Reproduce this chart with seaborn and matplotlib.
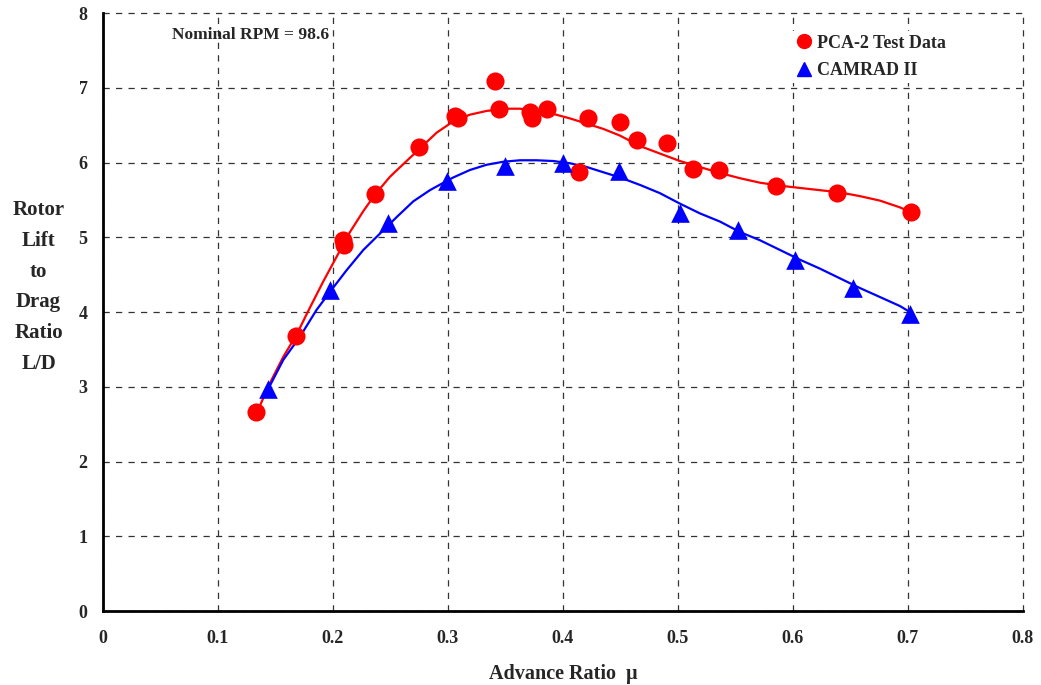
import matplotlib
matplotlib.use("Agg")
import matplotlib.pyplot as plt
import seaborn as sns
from matplotlib.lines import Line2D

# ---- data ----
pca_mu = [0.133, 0.168, 0.209, 0.210, 0.2365, 0.275, 0.306, 0.309, 0.341, 0.344,
          0.371, 0.373, 0.386, 0.414, 0.4215, 0.4496, 0.4646, 0.4907, 0.5128,
          0.536, 0.585, 0.6385, 0.7023]
pca_ld = [2.66, 3.68, 4.97, 4.90, 5.58, 6.21, 6.62, 6.60, 7.09, 6.72,
          6.68, 6.59, 6.72, 5.87, 6.59, 6.54, 6.30, 6.26, 5.91,
          5.90, 5.68, 5.59, 5.34]

cam_mu = [0.1437, 0.197, 0.248, 0.2994, 0.3496, 0.3997, 0.449, 0.5017, 0.5519,
          0.602, 0.652, 0.702]
cam_ld = [2.97, 4.29, 5.19, 5.75, 5.96, 6.00, 5.89, 5.33, 5.10,
          4.69, 4.32, 3.98]

# trend curves
pca_fit_mu = [0.134, 0.1452, 0.1568, 0.1684, 0.180, 0.1916, 0.2032, 0.2148, 0.2264,
              0.2365, 0.2496, 0.264, 0.2757, 0.2902, 0.3046, 0.3191, 0.3336, 0.348,
              0.3626, 0.3771, 0.3916, 0.4061, 0.4206, 0.435, 0.4496, 0.467, 0.4843,
              0.5017, 0.519, 0.5365, 0.5539, 0.5713, 0.5887, 0.606, 0.6235, 0.6409,
              0.6583, 0.6757, 0.693, 0.7017]
pca_fit_ld = [2.66, 3.05, 3.40, 3.70, 4.06, 4.41, 4.74, 5.07, 5.35,
              5.57, 5.81, 6.02, 6.19, 6.40, 6.55, 6.64, 6.69, 6.72,
              6.72, 6.69, 6.65, 6.59, 6.52, 6.45, 6.36, 6.22, 6.12,
              6.02, 5.94, 5.86, 5.79, 5.73, 5.69, 5.66, 5.63, 5.60,
              5.55, 5.49, 5.40, 5.34]

cam_fit_mu = [0.1437, 0.1568, 0.1713, 0.1858, 0.1974, 0.2119, 0.2264, 0.2409, 0.2554,
              0.2698, 0.2843, 0.2902, 0.3046, 0.3191, 0.3336, 0.348, 0.3626, 0.3771,
              0.3916, 0.4061, 0.4206, 0.435, 0.4496, 0.467, 0.4843, 0.5017, 0.519,
              0.5365, 0.5539, 0.5713, 0.5887, 0.606, 0.6235, 0.6409, 0.6583, 0.6757,
              0.693, 0.7017]
cam_fit_ld = [2.97, 3.36, 3.67, 4.03, 4.27, 4.56, 4.83, 5.05, 5.27,
              5.48, 5.63, 5.68, 5.80, 5.90, 5.97, 6.01, 6.03, 6.03,
              6.02, 5.99, 5.94, 5.87, 5.80, 5.70, 5.59, 5.45, 5.32,
              5.21, 5.07, 4.96, 4.83, 4.70, 4.58, 4.45, 4.32, 4.20,
              4.08, 4.00]

x_ticks = [0, 0.1, 0.2, 0.3, 0.4, 0.5, 0.6, 0.7, 0.8]
x_tick_labels = ["0", "0.1", "0.2", "0.3", "0.4", "0.5", "0.6", "0.7", "0.8"]
y_ticks = [0, 1, 2, 3, 4, 5, 6, 7, 8]

sns.set_style("white")
plt.rcParams['font.family'] = ['Liberation Serif', 'DejaVu Serif']
plt.rcParams['font.weight'] = 'bold'

fig = plt.figure(figsize=(10.41, 6.85), dpi=100)
ax = fig.add_axes([0.0989, 0.108, 0.8838, 0.873])

RED = "#ff0000"
BLUE = "#0000ff"

sns.lineplot(x=pca_fit_mu, y=pca_fit_ld, ax=ax, color=RED, lw=1.6, sort=False, zorder=3)
sns.lineplot(x=cam_fit_mu, y=cam_fit_ld, ax=ax, color=BLUE, lw=1.6, sort=False, zorder=3)
sns.scatterplot(x=pca_mu, y=pca_ld, ax=ax, color=RED, marker="o", s=170,
                edgecolor=RED, linewidth=0, zorder=4)
sns.scatterplot(x=cam_mu, y=cam_ld, ax=ax, color=BLUE, marker="^", s=180,
                edgecolor=BLUE, linewidth=0, zorder=4)

ax.set_xlim(0, 0.8)
ax.set_ylim(0, 8)
ax.set_xticks(x_ticks)
ax.set_xticklabels(x_tick_labels)
ax.set_yticks(y_ticks)
ax.tick_params(axis="both", direction="in", length=5, width=1.2, labelsize=13, pad=14)
ax.tick_params(axis="y", pad=11)
for lab in ax.get_xticklabels() + ax.get_yticklabels():
    lab.set_fontweight("bold")

ax.grid(True, color="#333333", linestyle=(0, (5, 5)), linewidth=0.9)
for gl in ax.get_xgridlines() + ax.get_ygridlines():
    gl.set_clip_on(False)
ax.set_axisbelow(True)
for s in ["top", "right"]:
    ax.spines[s].set_visible(False)
for s in ["left", "bottom"]:
    ax.spines[s].set_linewidth(2)
    ax.spines[s].set_color("black")
    ax.spines[s].set_zorder(5)

ax.set_xlabel("Advance Ratio  \u03bc", fontsize=14.5, fontweight="bold", labelpad=12)
ax.set_ylabel("")
fig.text(0.037, 0.581, "Rotor\nLift\nto\nDrag\nRatio\nL/D", ha="center", va="center",
         fontsize=15, fontweight="bold", linespacing=1.72)

ax.text(0.06, 7.70, "Nominal RPM = 98.6", fontsize=12.5, fontweight="bold",
        ha="left", va="center")

handles = [Line2D([], [], color=RED, marker="o", linestyle="none", markersize=10),
           Line2D([], [], color=BLUE, marker="^", linestyle="none", markersize=10)]
leg = ax.legend(handles, ["PCA-2 Test Data", "CAMRAD II"], loc="upper right",
                bbox_to_anchor=(0.930, 0.985), frameon=True, fancybox=False,
                facecolor="white", edgecolor="none", framealpha=1.0,
                borderpad=0.2, handlelength=1.0,
                handletextpad=0.25, prop={"weight": "bold", "size": 13},
                labelspacing=0.6)

fig.savefig("out.png", dpi=100)
